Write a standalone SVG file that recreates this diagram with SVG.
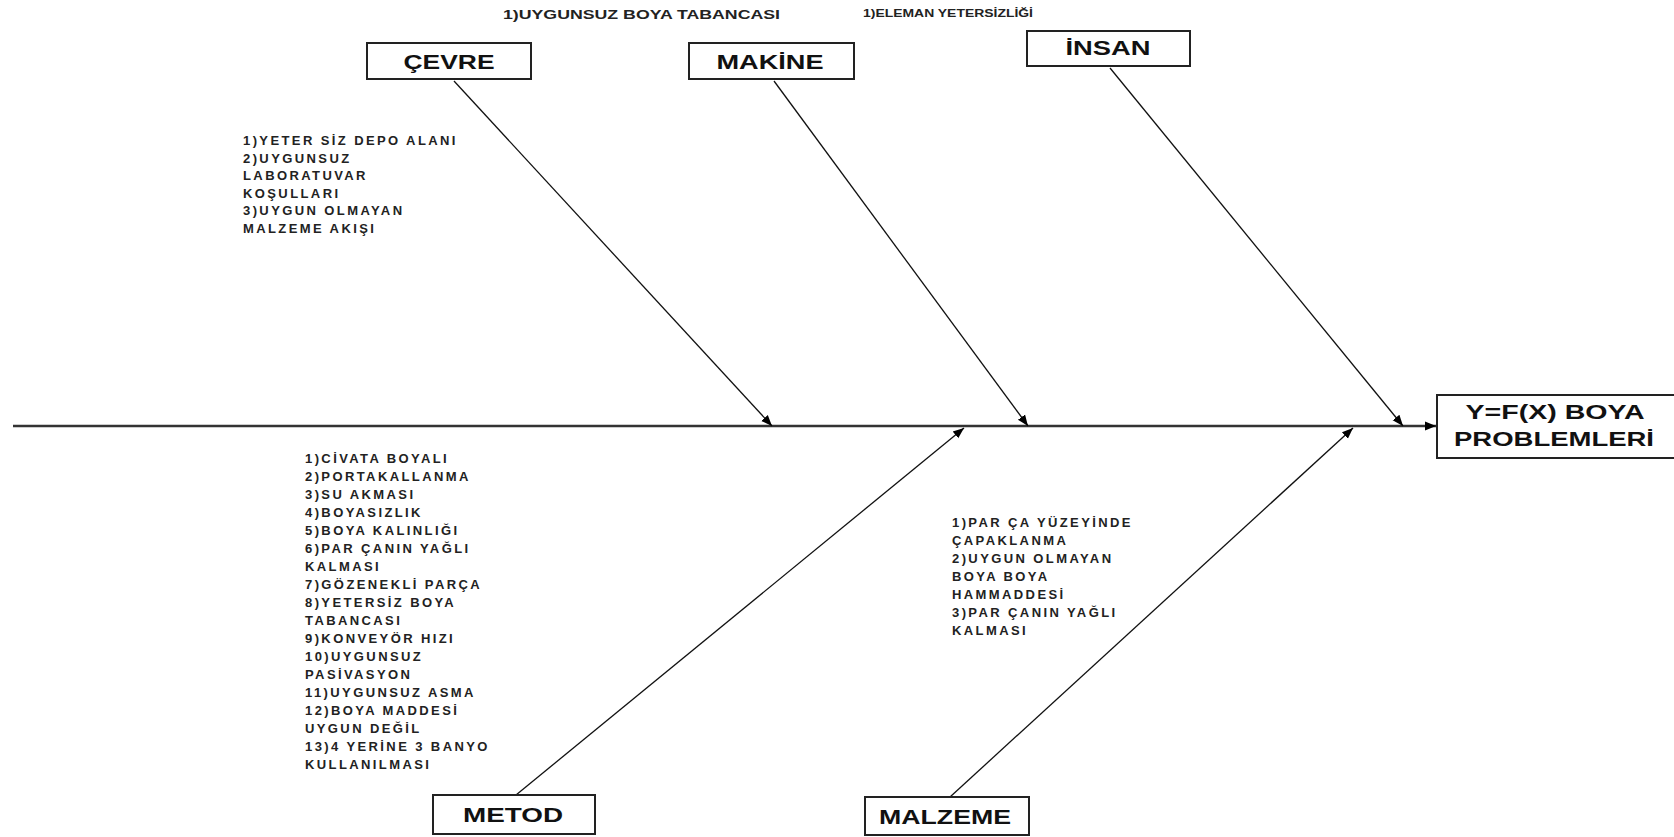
<svg xmlns="http://www.w3.org/2000/svg" width="1674" height="837" viewBox="0 0 1674 837">
<style>
.box{fill:#fff;stroke:#222;stroke-width:2}
.lbl{font-family:"Liberation Sans",Arial,sans-serif;font-weight:bold;font-size:21px;fill:#111;text-anchor:middle;dominant-baseline:central}
.t{font-family:"Liberation Sans",Arial,sans-serif;font-weight:bold;font-size:13px;fill:#222;letter-spacing:2.4px}
.ln{stroke:#111;stroke-width:1.3;fill:none}
.sp{stroke:#333;stroke-width:2.4;fill:none}
</style>
<defs>
<marker id="ah" viewBox="0 0 10 10" refX="10" refY="5" markerWidth="11" markerHeight="11" markerUnits="userSpaceOnUse" orient="auto">
<path d="M0,1 L10,5 L0,9 Z" fill="#000"/>
</marker>
</defs>
<rect width="1674" height="837" fill="#fff"/>
<g id="connectors">
<line class="sp" x1="13" y1="426" x2="1436" y2="426" marker-end="url(#ah)"/>
<line class="ln" x1="454" y1="81" x2="772" y2="426" marker-end="url(#ah)"/>
<line class="ln" x1="774" y1="81" x2="1028" y2="426" marker-end="url(#ah)"/>
<line class="ln" x1="1110" y1="68" x2="1403" y2="426" marker-end="url(#ah)"/>
<line class="ln" x1="516" y1="795" x2="964" y2="428" marker-end="url(#ah)"/>
<line class="ln" x1="950" y1="797" x2="1353" y2="428" marker-end="url(#ah)"/>
</g>
<g id="cevre"><rect class="box" x="367" y="43" width="164" height="36"/><text class="lbl" x="449" y="61" textLength="91" lengthAdjust="spacingAndGlyphs">ÇEVRE</text></g>
<g id="makine"><rect class="box" x="689" y="43" width="165" height="36"/><text class="lbl" x="770" y="61" textLength="107" lengthAdjust="spacingAndGlyphs">MAKİNE</text></g>
<g id="insan"><rect class="box" x="1027" y="31" width="163" height="35"/><text class="lbl" x="1108" y="47" textLength="85" lengthAdjust="spacingAndGlyphs">İNSAN</text></g>
<g id="sonuc"><rect class="box" x="1437" y="395" width="240" height="63"/><text class="lbl" x="1555" y="411" textLength="179" lengthAdjust="spacingAndGlyphs">Y=F(X) BOYA</text><text class="lbl" x="1554" y="438" textLength="200" lengthAdjust="spacingAndGlyphs">PROBLEMLERİ</text></g>
<g id="metod"><rect class="box" x="433" y="795" width="162" height="39"/><text class="lbl" x="513" y="814" textLength="100" lengthAdjust="spacingAndGlyphs">METOD</text></g>
<g id="malzeme"><rect class="box" x="865" y="797" width="164" height="38"/><text class="lbl" x="945" y="816" textLength="132" lengthAdjust="spacingAndGlyphs">MALZEME</text></g>
<g id="ust-notlar">
<text class="t" x="503" y="19" textLength="277" lengthAdjust="spacingAndGlyphs" style="letter-spacing:0">1)UYGUNSUZ BOYA TABANCASI</text>
<text class="t" x="863" y="17" textLength="170" lengthAdjust="spacingAndGlyphs" style="font-size:10px;letter-spacing:0">1)ELEMAN  YETERSİZLİĞİ</text>
</g>
<g id="cevre-nedenler">
<text class="t" x="243" y="145">1)YETER SİZ DEPO ALANI</text>
<text class="t" x="243" y="163">2)UYGUNSUZ</text>
<text class="t" x="243" y="180">LABORATUVAR</text>
<text class="t" x="243" y="198">KOŞULLARI</text>
<text class="t" x="243" y="215">3)UYGUN OLMAYAN</text>
<text class="t" x="243" y="233">MALZEME AKIŞI</text>
</g>
<g id="metod-nedenler">
<text class="t" x="305" y="463">1)CİVATA BOYALI</text>
<text class="t" x="305" y="481">2)PORTAKALLANMA</text>
<text class="t" x="305" y="499">3)SU AKMASI</text>
<text class="t" x="305" y="517">4)BOYASIZLIK</text>
<text class="t" x="305" y="535">5)BOYA KALINLIĞI</text>
<text class="t" x="305" y="553">6)PAR ÇANIN YAĞLI</text>
<text class="t" x="305" y="571">KALMASI</text>
<text class="t" x="305" y="589">7)GÖZENEKLİ PARÇA</text>
<text class="t" x="305" y="607">8)YETERSİZ BOYA</text>
<text class="t" x="305" y="625">TABANCASI</text>
<text class="t" x="305" y="643">9)KONVEYÖR HIZI</text>
<text class="t" x="305" y="661">10)UYGUNSUZ</text>
<text class="t" x="305" y="679">PASİVASYON</text>
<text class="t" x="305" y="697">11)UYGUNSUZ ASMA</text>
<text class="t" x="305" y="715">12)BOYA MADDESİ</text>
<text class="t" x="305" y="733">UYGUN DEĞİL</text>
<text class="t" x="305" y="751">13)4 YERİNE 3 BANYO</text>
<text class="t" x="305" y="769">KULLANILMASI</text>
</g>
<g id="malzeme-nedenler">
<text class="t" x="952" y="527">1)PAR ÇA YÜZEYİNDE</text>
<text class="t" x="952" y="545">ÇAPAKLANMA</text>
<text class="t" x="952" y="563">2)UYGUN OLMAYAN</text>
<text class="t" x="952" y="581">BOYA BOYA</text>
<text class="t" x="952" y="599">HAMMADDESİ</text>
<text class="t" x="952" y="617">3)PAR ÇANIN YAĞLI</text>
<text class="t" x="952" y="635">KALMASI</text>
</g>
</svg>
